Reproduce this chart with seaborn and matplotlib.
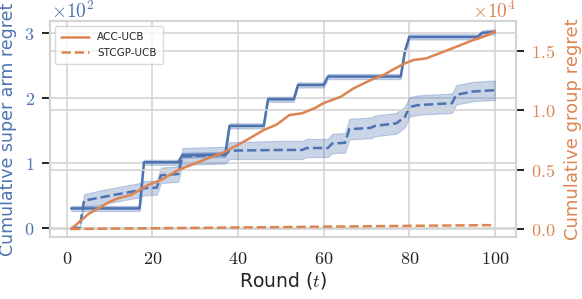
import matplotlib
matplotlib.use("Agg")
import matplotlib.pyplot as plt
import seaborn as sns
import numpy as np
import pandas as pd
from matplotlib.ticker import FuncFormatter

# ---------------- data ----------------
acc_arm_t = [1, 17, 18, 26, 27, 37, 38, 46, 47, 53, 54, 60, 61, 78, 79, 80, 96, 97, 100]
acc_arm = [30, 30, 101, 101, 112, 113, 157, 157, 198, 198, 220, 220, 233, 233, 272, 294, 294, 300, 302]
acc_arm_err = [4, 4, 4, 4, 4, 4, 4, 4, 4, 4, 4, 4, 4, 4, 4, 4, 4, 4, 4]

stc_arm_t = [1, 3, 4, 8, 12, 17, 18, 21, 22, 26, 27, 37, 38, 50, 55, 56, 61, 62, 65, 66,
             71, 72, 77, 79, 80, 82, 90, 91, 95, 100]
stc_arm = [0, 0, 42, 47, 52, 58, 61, 62, 81, 83, 110, 112, 119, 120, 120, 123, 123, 130, 131, 152,
           154, 157, 161, 171, 186, 189, 192, 205, 210, 212]
stc_arm_err = [1, 1, 10, 11, 11, 11, 11, 11, 12, 12, 13, 13, 13, 14, 14, 14, 14, 15, 15, 16,
               16, 16, 16, 16, 15, 15, 15, 15, 15, 15]

acc_grp_t = [1, 3, 5, 8, 10, 12, 15, 17, 19, 22, 24, 26, 29, 32, 37, 42, 46, 49, 52, 55, 58, 60,
             64, 67, 71, 74, 77, 79, 81, 84, 88, 92, 95, 98, 100]
acc_grp = [0, 620, 1260, 1880, 2300, 2590, 2870, 3290, 3710, 4130, 4550, 4970, 5400, 5820, 6520,
           7500, 8350, 8800, 9610, 9760, 10200, 10620, 11150, 11860, 12560, 12990, 13600, 13970,
           14250, 14390, 14950, 15510, 15940, 16300, 16650]

stc_grp_t = [1, 25, 50, 75, 100]
stc_grp = [0, 80, 160, 250, 330]

labels = ["ACC-UCB", "STCGP-UCB"]
x_ticks = [0, 20, 40, 60, 80, 100]
left_ticks = [0, 100, 200, 300]
right_ticks = [0, 5000, 10000, 15000]

# ---------------- style ----------------
sns.set_theme(style="whitegrid")
plt.rcParams['font.family'] = ['DejaVu Sans']
plt.rcParams['mathtext.fontset'] = 'cm'
BLUE = "#4c72b0"
ORANGE = "#dd8452"
GRID = "#d4d4d4"

fig = plt.figure(figsize=(5.82, 2.99), dpi=100)
ax = fig.add_axes([50 / 582, 1 - 237 / 299, 466 / 582, 216 / 299])
ax2 = ax.twinx()

# left axis: super arm regret
for t, v, e, ls in [(acc_arm_t, acc_arm, acc_arm_err, "-"), (stc_arm_t, stc_arm, stc_arm_err, "--")]:
    v = np.array(v, float)
    e = np.array(e, float)
    ax.fill_between(t, v - e, v + e, color=BLUE, alpha=0.3, lw=0.8, edgecolor=BLUE)
    sns.lineplot(x=t, y=v, ax=ax, color=BLUE, lw=1.8, linestyle=ls)

# right axis: group regret
sns.lineplot(x=acc_grp_t, y=acc_grp, ax=ax2, color=ORANGE, lw=1.8, linestyle="-", label=labels[0])
sns.lineplot(x=stc_grp_t, y=stc_grp, ax=ax2, color=ORANGE, lw=1.8, linestyle="--", label=labels[1])

ax.set_xlim(-3.95, 104.95)
ax.set_ylim(-14, 318.5)
ax2.set_ylim(-675, 17540)

ax.xaxis.set_major_locator(plt.FixedLocator(x_ticks))
ax.yaxis.set_major_locator(plt.FixedLocator(left_ticks))
ax2.yaxis.set_major_locator(plt.FixedLocator(right_ticks))
ax.xaxis.set_major_formatter(FuncFormatter(lambda v, p: f"${v:g}$"))
ax.yaxis.set_major_formatter(FuncFormatter(lambda v, p: f"${v / 100:g}$"))
ax2.yaxis.set_major_formatter(FuncFormatter(lambda v, p: f"${v / 1e4:.1f}$"))

for a in (ax, ax2):
    a.grid(True, color=GRID, lw=1.2)
    a.set_axisbelow(True)
    for s in a.spines.values():
        s.set_color(GRID)
        s.set_linewidth(1.5)
ax2.grid(True, axis="y", color=GRID, lw=1.2)
ax2.grid(False, axis="x")

ax.tick_params(axis="x", length=0, pad=9, labelsize=13, colors="#222222")
ax.tick_params(axis="y", left=True, length=6, width=1.2, color="black", pad=5,
               labelsize=13, labelcolor=BLUE)
ax2.tick_params(axis="y", right=True, length=6, width=1.2, color="black", pad=5,
                labelsize=13, labelcolor=ORANGE)

ax.set_xlabel("Round ($t$)", fontsize=13.5, color="#222222", labelpad=2)
ax.set_ylabel("Cumulative super arm regret", fontsize=12.5, color=BLUE, labelpad=5)
ax2.set_ylabel("Cumulative group regret", fontsize=13, color=ORANGE, labelpad=6)

fig.text(51 / 582, 0.999, r"$\times10^{2}$", fontsize=14, color=BLUE,
         ha="left", va="top")
fig.text(516 / 582, 0.999, r"$\times10^{4}$", fontsize=14, color=ORANGE,
         ha="right", va="top")

leg = ax2.legend(loc="upper left", fontsize=7.5, frameon=True, handlelength=2.6,
                 borderpad=0.6, labelspacing=0.5)
leg.get_frame().set_edgecolor("#d0d0d0")

fig.savefig("out.png", dpi=100)
